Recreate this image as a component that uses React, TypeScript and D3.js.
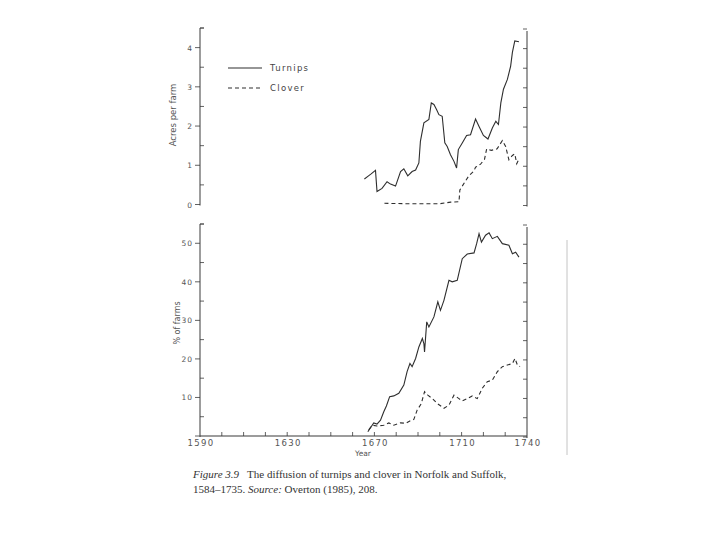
import React, { useRef, useEffect } from "react";
import * as d3 from "d3";

// [year, acres per farm]
const turnipAcres: [number, number][] = [
  [1665.4, 0.65], [1667.3, 0.73], [1668.5, 0.78], [1670.5, 0.87], [1671.2, 0.33],
  [1673.5, 0.41], [1675.8, 0.58], [1677.4, 0.52], [1679.7, 0.47], [1682, 0.84],
  [1683.5, 0.91], [1685.3, 0.73], [1687.3, 0.84], [1688.9, 0.88], [1690.4, 1.06],
  [1691.1, 1.61], [1692.7, 2.08], [1695, 2.17], [1696.1, 2.59], [1697.3, 2.55],
  [1698.5, 2.42], [1699.6, 2.29], [1701.1, 2.25], [1702.3, 1.57], [1703.4, 1.48],
  [1704.9, 1.27], [1706.5, 1.1], [1707.7, 0.93], [1708.5, 1.4], [1710.3, 1.57],
  [1712.3, 1.76], [1714.1, 1.78], [1716.4, 2.18], [1718, 1.99], [1720, 1.76],
  [1722.1, 1.67], [1724.1, 1.95], [1725.7, 2.12], [1726.9, 2.04], [1728, 2.59],
  [1729.2, 2.94], [1731, 3.19], [1732.5, 3.53], [1733.3, 3.88], [1734.4, 4.17],
  [1736.3, 4.15],
];

const cloverAcres: [number, number][] = [
  [1674.6, 0.03], [1685, 0.02], [1700, 0.02], [1705, 0.06], [1708.8, 0.07],
  [1709.2, 0.37], [1711.8, 0.6], [1713.3, 0.73], [1715.6, 0.85], [1716.4, 0.95],
  [1718.7, 1.03], [1720.5, 1.15], [1721.5, 1.42], [1723.6, 1.38], [1726.3, 1.42],
  [1728.7, 1.63], [1730.2, 1.48], [1731.7, 1.14], [1733.3, 1.25], [1734.4, 1.29],
  [1735.3, 1.04], [1736.3, 1.16],
];

// [year, % of farms]
const turnipShare: [number, number][] = [
  [1667, 1.1], [1668.5, 2.4], [1669.7, 3.4], [1671.2, 3.1], [1672.8, 4.1],
  [1674.3, 6.3], [1675.5, 7.8], [1677, 10.2], [1678.9, 10.4], [1681.2, 11.1],
  [1683.5, 13.2], [1685, 16.7], [1686.3, 18.8], [1687.3, 18], [1688.9, 20.1],
  [1690.4, 23.1], [1692, 25.3], [1692.7, 24], [1693, 21.8], [1694, 29.6],
  [1695, 28.3], [1697.3, 30.9], [1699.1, 34.8], [1700.3, 32.6], [1701.9, 35.2],
  [1704.2, 40.4], [1705.7, 40], [1708, 40.4], [1710.3, 46], [1712.6, 47.2],
  [1715.7, 47.5], [1716.9, 49.9], [1718, 52.5], [1719.1, 50.3], [1721, 52.1],
  [1722.6, 52.7], [1724.1, 51.2], [1726.4, 51.8], [1728.7, 49.9], [1731.7, 49.5],
  [1733.3, 47.3], [1734.8, 47.7], [1736.3, 46.4],
];

const cloverShare: [number, number][] = [
  [1667.4, 1.6], [1669, 2.8], [1671.2, 2.6], [1674.3, 2.8], [1676.6, 3.4],
  [1678.9, 2.8], [1682, 3.4], [1684.3, 3.3], [1686.6, 4], [1688.1, 4.3],
  [1689.6, 6.7], [1691.5, 8.4], [1693, 11.5], [1694.5, 10.6], [1696.6, 9.7],
  [1698.9, 8.4], [1701.9, 7.2], [1704.2, 8], [1706.5, 10.6], [1708.8, 9.7],
  [1710.3, 9.1], [1712.6, 9.7], [1714.9, 10.4], [1717.2, 9.7], [1719.5, 12.4],
  [1721.8, 14.1], [1724.1, 14.5], [1726.4, 16.7], [1728.7, 18], [1731, 18.4],
  [1733.3, 18.8], [1734.5, 20.1], [1735.6, 18.4], [1736.8, 18],
];

const yearLabels = [1590, 1630, 1670, 1710, 1740];
const acreLabels = [0, 1, 2, 3, 4];
const shareLabels = [10, 20, 30, 40, 50];
const legendItems = ["Turnips", "Clover"];

const App = () => {
  const ref = useRef<SVGSVGElement | null>(null);

  useEffect(() => {
    if (!ref.current) return;
    const svg = d3.select(ref.current);
    svg.selectAll("*").remove();

    const ink = "#3a3a3a";
    const sans = "'DejaVu Sans', sans-serif";

    const x = d3.scaleLinear().domain([1590, 1740]).range([200, 527]);
    const yTop = d3.scaleLinear().domain([0, 4.5]).range([204.5, 28]);
    const yBot = d3.scaleLinear().domain([0, 55]).range([436, 224]);

    const lineTop = d3
      .line<[number, number]>()
      .x((d) => x(d[0]))
      .y((d) => yTop(d[1]));
    const lineBot = d3
      .line<[number, number]>()
      .x((d) => x(d[0]))
      .y((d) => yBot(d[1]));

    const drawPanel = (
      y: d3.ScaleLinear<number, number>,
      minorStep: number,
      labels: number[],
      top: number,
      bottomLine: boolean
    ) => {
      const g = svg.append("g");
      const [lo, hi] = y.domain();
      const base = y(lo);
      // left axis
      g.append("line")
        .attr("x1", x(1590)).attr("x2", x(1590))
        .attr("y1", top).attr("y2", base + 1)
        .attr("stroke", ink).attr("stroke-width", 1);
      // right axis
      g.append("line")
        .attr("x1", x(1740)).attr("x2", x(1740))
        .attr("y1", top + 3).attr("y2", base + 2)
        .attr("stroke", ink).attr("stroke-width", 1);
      d3.range(lo, hi + 1e-6, minorStep).forEach((v) => {
        const isMajor = labels.includes(v) || v === 0;
        g.append("line")
          .attr("x1", x(1590) + (isMajor ? -5 : 0))
          .attr("x2", x(1590) + (isMajor ? 0 : 4))
          .attr("y1", y(v)).attr("y2", y(v))
          .attr("stroke", ink).attr("stroke-width", 0.8);
        g.append("line")
          .attr("x1", x(1740) - 4).attr("x2", x(1740))
          .attr("y1", y(v) + 1).attr("y2", y(v) + 1)
          .attr("stroke", ink).attr("stroke-width", 0.8);
      });
      g.append("line")
        .attr("x1", x(1590)).attr("x2", x(1590) + 4)
        .attr("y1", top).attr("y2", top)
        .attr("stroke", ink).attr("stroke-width", 0.8);
      labels.forEach((v) => {
        g.append("text")
          .attr("x", x(1590) - 7)
          .attr("y", y(v) + 3)
          .attr("text-anchor", "end")
          .attr("font-family", sans)
          .attr("font-size", 7.5)
          .attr("letter-spacing", 1)
          .attr("fill", "#555")
          .text(v);
      });
      if (bottomLine) {
        g.append("line")
          .attr("x1", x(1590)).attr("x2", x(1740))
          .attr("y1", base).attr("y2", base)
          .attr("stroke", ink).attr("stroke-width", 1.1);
        d3.range(1600, 1740, 10).forEach((yr) => {
          g.append("line")
            .attr("x1", x(yr)).attr("x2", x(yr))
            .attr("y1", base).attr("y2", base - 4)
            .attr("stroke", ink).attr("stroke-width", 0.8);
        });
        yearLabels.forEach((yr) => {
          g.append("text")
            .attr("x", x(yr) + 1)
            .attr("y", base + 10)
            .attr("text-anchor", "middle")
            .attr("font-family", sans)
            .attr("font-size", 8.5)
            .attr("letter-spacing", 1.3)
            .attr("fill", "#555")
            .text(yr);
        });
      }
    };

    drawPanel(yTop, 0.5, acreLabels, 28, false);
    drawPanel(yBot, 5, shareLabels, 224, true);

    // series
    const series = [
      { data: turnipAcres, gen: lineTop, dash: null },
      { data: cloverAcres, gen: lineTop, dash: "4,3" },
      { data: turnipShare, gen: lineBot, dash: null },
      { data: cloverShare, gen: lineBot, dash: "4,3" },
    ];
    series.forEach((s) => {
      svg.append("path")
        .datum(s.data)
        .attr("d", s.gen)
        .attr("fill", "none")
        .attr("stroke", "#2e2e2e")
        .attr("stroke-width", 1.1)
        .attr("stroke-dasharray", s.dash);
    });

    // legend
    legendItems.forEach((name, i) => {
      const ly = 68 + i * 20;
      svg.append("line")
        .attr("x1", 228).attr("x2", 262)
        .attr("y1", ly).attr("y2", ly)
        .attr("stroke", "#2e2e2e")
        .attr("stroke-width", 1.1)
        .attr("stroke-dasharray", i === 1 ? "4,3" : null);
      svg.append("text")
        .attr("x", 270).attr("y", ly + 3)
        .attr("font-family", sans)
        .attr("font-size", 8.5)
        .attr("letter-spacing", 1.3)
        .attr("fill", "#444")
        .text(name);
    });

    // axis titles
    svg.append("text")
      .attr("transform", "translate(176,115) rotate(-90)")
      .attr("text-anchor", "middle")
      .attr("font-family", sans)
      .attr("font-size", 8.5)
      .attr("fill", "#555")
      .text("Acres per farm");
    svg.append("text")
      .attr("transform", "translate(180,323) rotate(-90)")
      .attr("text-anchor", "middle")
      .attr("font-family", sans)
      .attr("font-size", 8)
      .attr("fill", "#555")
      .text("% of farms");
    svg.append("text")
      .attr("x", 363).attr("y", 456)
      .attr("text-anchor", "middle")
      .attr("font-family", sans)
      .attr("font-size", 7.5)
      .attr("fill", "#555")
      .text("Year");

    // scan edge line on the right
    svg.append("line")
      .attr("x1", 567).attr("x2", 567)
      .attr("y1", 240).attr("y2", 455)
      .attr("stroke", "#c4c4c4").attr("stroke-width", 1);

    // caption
    const cap = svg.append("g")
      .attr("font-family", "'Liberation Serif', 'DejaVu Serif', serif")
      .attr("font-size", 11)
      .attr("fill", "#333");
    const l1 = cap.append("text").attr("x", 193).attr("y", 478);
    l1.append("tspan").attr("font-style", "italic").text("Figure 3.9");
    l1.append("tspan").attr("dx", 8).text("The diffusion of turnips and clover in Norfolk and Suffolk,");
    const l2 = cap.append("text").attr("x", 193).attr("y", 493);
    l2.append("tspan").text("1584–1735. ");
    l2.append("tspan").attr("font-style", "italic").text("Source:");
    l2.append("tspan").text(" Overton (1985), 208.");
  }, []);

  return (
    <div>
      <svg
        ref={ref}
        width={720}
        height={540}
        style={{ position: "absolute", left: 0, top: 0, background: "#fff" }}
      />
    </div>
  );
};

export default App;
